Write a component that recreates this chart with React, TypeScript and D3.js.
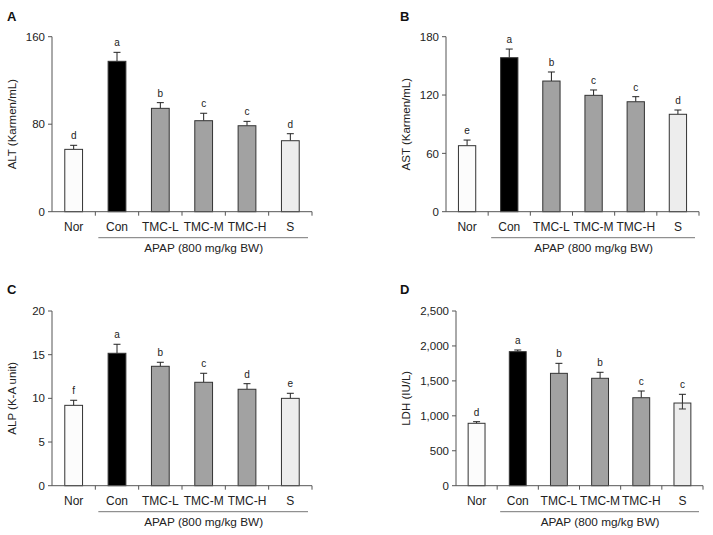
import React from "react";
import * as d3 from "d3";

const categories = ["Nor", "Con", "TMC-L", "TMC-M", "TMC-H", "S"];
const barColors = ["#fcfcfc", "#000000", "#a2a2a2", "#a2a2a2", "#a2a2a2", "#ededed"];

const altMean = [57, 137.5, 94.5, 83.2, 78.6, 64.9];
const altErr = [3.7, 8.2, 5.2, 6.8, 4.0, 6.4];
const altLetters = ["d", "a", "b", "c", "c", "d"];
const altTicks = [0, 80, 160];

const astMean = [67.9, 158.4, 134.4, 119.7, 113.1, 100.2];
const astErr = [5.8, 8.9, 9.3, 5.5, 5.2, 4.4];
const astLetters = ["e", "a", "b", "c", "c", "d"];
const astTicks = [0, 60, 120, 180];

const alpMean = [9.2, 15.16, 13.67, 11.84, 11.04, 10.0];
const alpErr = [0.58, 1.03, 0.46, 1.03, 0.64, 0.58];
const alpLetters = ["f", "a", "b", "c", "d", "e"];
const alpTicks = [0, 5, 10, 15, 20];

const ldhMean = [893, 1918, 1608, 1537, 1259, 1183];
const ldhErr = [23, 24, 143, 86, 96, 125];
const ldhLowErr = [0, 0, 0, 0, 0, 85];
const ldhLetters = ["d", "a", "b", "b", "c", "c"];
const ldhTicks = [0, 500, 1000, 1500, 2000, 2500];

const groupLabel = "APAP (800 mg/kg BW)";

type PanelProps = {
  label: string;
  yLabel: string;
  means: number[];
  errs: number[];
  lowErrs?: number[];
  letters: string[];
  ticks: number[];
  axisX: number;
  xEnd: number;
  y0: number;
  yTop: number;
  labelX: number;
  labelY: number;
  yLabelOffset: number;
  fmt: (v: number) => string;
};

const FONT = "'Liberation Sans', Arial, Helvetica, sans-serif";
const TXT = "#222";
const AX = "#555";

function Panel(p: PanelProps) {
  const y = d3.scaleLinear().domain([0, p.ticks[p.ticks.length - 1]]).range([p.y0, p.yTop]);
  const x = d3.scaleBand<string>().domain(categories).range([p.axisX, p.xEnd]).padding(0);
  const step = x.step();
  const bw = step * 0.41;
  const cap = 3.5;
  return (
    <g fontFamily={FONT}>
      <text x={p.labelX} y={p.labelY} fontSize={13} fontWeight="bold" fill="#111">{p.label}</text>
      <line x1={p.axisX} x2={p.axisX} y1={p.yTop} y2={p.y0} stroke={AX} strokeWidth={1} />
      {p.ticks.map((t) => (
        <g key={t}>
          <line x1={p.axisX - 4} x2={p.axisX} y1={y(t)} y2={y(t)} stroke={AX} />
          <text x={p.axisX - 7} y={y(t)} dy="0.36em" textAnchor="end" fontSize={11.5} fill={TXT}>{p.fmt(t)}</text>
        </g>
      ))}
      <text
        transform={`translate(${p.axisX - p.yLabelOffset},${(p.y0 + p.yTop) / 2}) rotate(-90)`}
        textAnchor="middle"
        dy="0.36em"
        fontSize={11.5}
        fill={TXT}
      >{p.yLabel}</text>
      {categories.map((c, i) => {
        const cx = (x(c) as number) + step / 2;
        const top = y(p.means[i]);
        const et = y(p.means[i] + p.errs[i]);
        const low = p.lowErrs && p.lowErrs[i] ? y(p.means[i] - p.lowErrs[i]) : null;
        return (
          <g key={c}>
            <line x1={cx} x2={cx} y1={top} y2={et} stroke="#222" />
            <line x1={cx - cap} x2={cx + cap} y1={et} y2={et} stroke="#222" />
            <rect x={cx - bw / 2} y={top} width={bw} height={p.y0 - top} fill={barColors[i]} stroke="#333" strokeWidth={1} />
            {low !== null && (
              <g>
                <line x1={cx} x2={cx} y1={top} y2={low} stroke="#333" />
                <line x1={cx - cap} x2={cx + cap} y1={low} y2={low} stroke="#333" />
              </g>
            )}
            <text x={cx} y={et - 6} textAnchor="middle" fontSize={10} fill={TXT}>{p.letters[i]}</text>
            <text x={cx} y={p.y0 + 19.5} textAnchor="middle" fontSize={12} fill={TXT}>{c}</text>
          </g>
        );
      })}
      <line x1={p.axisX} x2={p.xEnd} y1={p.y0} y2={p.y0} stroke={AX} />
      {categories.map((c) => (
        <line key={c} x1={(x(c) as number) + step} x2={(x(c) as number) + step} y1={p.y0} y2={p.y0 + 4} stroke={AX} />
      ))}
      <line x1={(x("Con") as number) + 3} x2={p.xEnd - 4} y1={p.y0 + 26} y2={p.y0 + 26} stroke="#777" />
      <text x={((x("Con") as number) + p.xEnd) / 2} y={p.y0 + 40} textAnchor="middle" fontSize={11.8} fill={TXT}>{groupLabel}</text>
    </g>
  );
}

const intFmt = (v: number) => String(v);
const commaFmt = d3.format(",");

export default function App() {
  return (
    <svg width={713} height={535} style={{ position: "absolute", left: 0, top: 0, background: "#fff" }}>
      <rect width={713} height={535} fill="#fff" />
      <Panel label="A" yLabel="ALT (Karmen/mL)" means={altMean} errs={altErr} letters={altLetters} ticks={altTicks}
        axisX={52} xEnd={312} y0={211.7} yTop={36.7} labelX={7} labelY={21} yLabelOffset={40} fmt={intFmt} />
      <Panel label="B" yLabel="AST (Karmen/mL)" means={astMean} errs={astErr} letters={astLetters} ticks={astTicks}
        axisX={446} xEnd={699} y0={211.7} yTop={36.7} labelX={400} labelY={21} yLabelOffset={40} fmt={intFmt} />
      <Panel label="C" yLabel="ALP (K-A unit)" means={alpMean} errs={alpErr} letters={alpLetters} ticks={alpTicks}
        axisX={52} xEnd={312} y0={485.7} yTop={311} labelX={7} labelY={294} yLabelOffset={40} fmt={intFmt} />
      <Panel label="D" yLabel="LDH (IU/L)" means={ldhMean} errs={ldhErr} lowErrs={ldhLowErr} letters={ldhLetters} ticks={ldhTicks}
        axisX={456} xEnd={703} y0={485.7} yTop={311} labelX={400} labelY={294} yLabelOffset={50} fmt={commaFmt} />
    </svg>
  );
}
